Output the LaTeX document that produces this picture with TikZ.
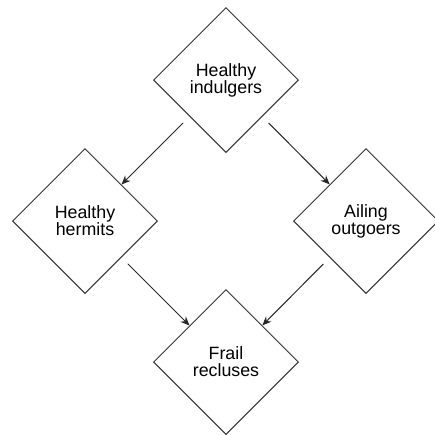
\documentclass[tikz,border=0pt]{standalone}
\usepackage{fontspec}
\setmainfont{Liberation Sans}
\usepackage{tikz}
\usetikzlibrary{arrows.meta, shapes.geometric}

\begin{document}
\begin{tikzpicture}[x=0.5pt, y=-0.5pt,
    state/.style={diamond, aspect=1, draw=black!80, line width=0.5pt, inner sep=0pt,
        minimum width=72.5pt, minimum height=72.5pt, align=center,
        font=\fontsize{8.9}{8.6}\selectfont},
    link/.style={draw=black!85, line width=0.5pt, -{Stealth[length=4.5pt, width=3.8pt]}, shorten <=4.5pt}]
    \useasboundingbox (0, 0) rectangle (435, 435);

    % 四种状态
    \node[state] (indulgers) at (226, 80) {Healthy\\indulgers};
    \node[state] (hermits) at (85, 221) {Healthy\\hermits};
    \node[state] (outgoers) at (366, 221) {Ailing\\outgoers};
    \node[state] (recluses) at (226, 362) {Frail\\recluses};

    % 转移
    \draw[link] (indulgers) -- (hermits);
    \draw[link] (indulgers) -- (outgoers);
    \draw[link] (hermits) -- (recluses);
    \draw[link] (outgoers) -- (recluses);
\end{tikzpicture}
\end{document}
